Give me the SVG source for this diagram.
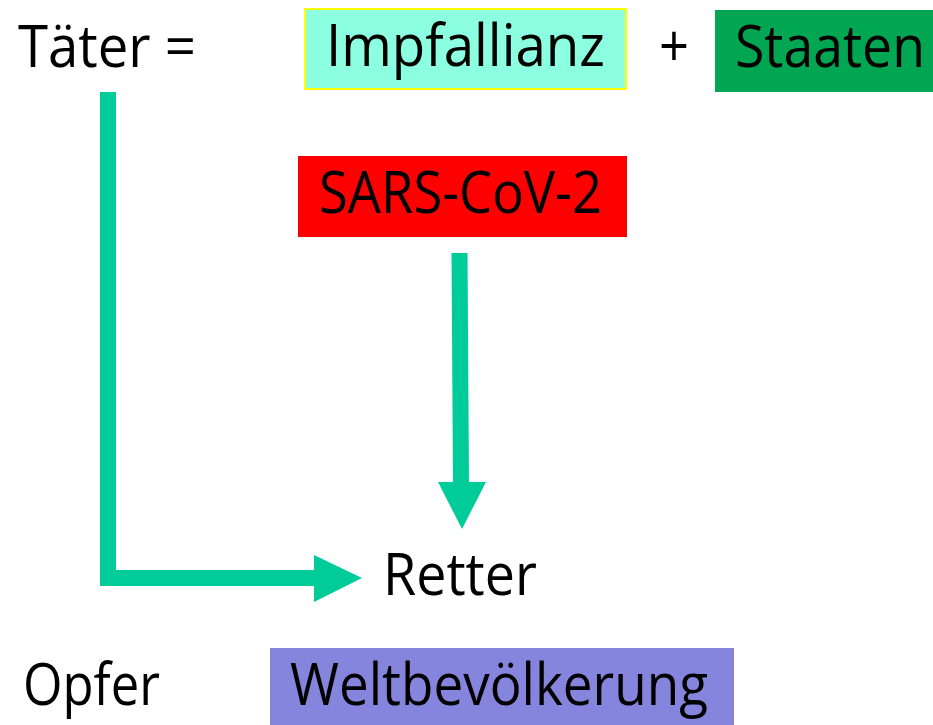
<svg xmlns="http://www.w3.org/2000/svg" width="933" height="725" viewBox="0 0 933 725">
<style>
text{font-family:"Open Sans","Noto Sans","Liberation Sans",sans-serif;font-size:58px;fill:#000}
.arr{fill:none;stroke:#00CC99;stroke-width:16;stroke-linejoin:miter}
.head{fill:#00CC99}
</style>
<rect width="933" height="725" fill="#fff"/>
<g id="taeter"><text x="18" y="67" textLength="178" lengthAdjust="spacingAndGlyphs">Täter =</text></g>
<g id="impfallianz"><rect x="305" y="9" width="321" height="80" fill="#8BFFDF" stroke="#FFFF00" stroke-width="2"/><text x="326" y="66" textLength="279" lengthAdjust="spacingAndGlyphs">Impfallianz</text></g>
<g id="plus"><text x="659" y="67" textLength="30" lengthAdjust="spacingAndGlyphs">+</text></g>
<g id="staaten"><rect x="715" y="10" width="218" height="82" fill="#00A651"/><text x="735" y="67" textLength="190" lengthAdjust="spacingAndGlyphs">Staaten</text></g>
<g id="sars"><rect x="298" y="156" width="329" height="81" fill="#FF0000"/><text x="319" y="213" textLength="283" lengthAdjust="spacingAndGlyphs">SARS-CoV-2</text></g>
<g id="retter"><text x="383" y="595" textLength="154" lengthAdjust="spacingAndGlyphs">Retter</text></g>
<g id="opfer"><text x="23" y="705" textLength="137" lengthAdjust="spacingAndGlyphs">Opfer</text></g>
<g id="welt"><rect x="270" y="648" width="464" height="77" fill="#8585DE"/><text x="290" y="705" textLength="418" lengthAdjust="spacingAndGlyphs">Weltbevölkerung</text></g>
<g id="connectors">
<path class="arr" d="M108 92 V578 H316"/>
<polygon class="head" points="314,555 362,578 314,602"/>
<path class="arr" d="M459.5 253 L461 484"/>
<polygon class="head" points="438,482 486,482 462,529"/>
</g>
</svg>
